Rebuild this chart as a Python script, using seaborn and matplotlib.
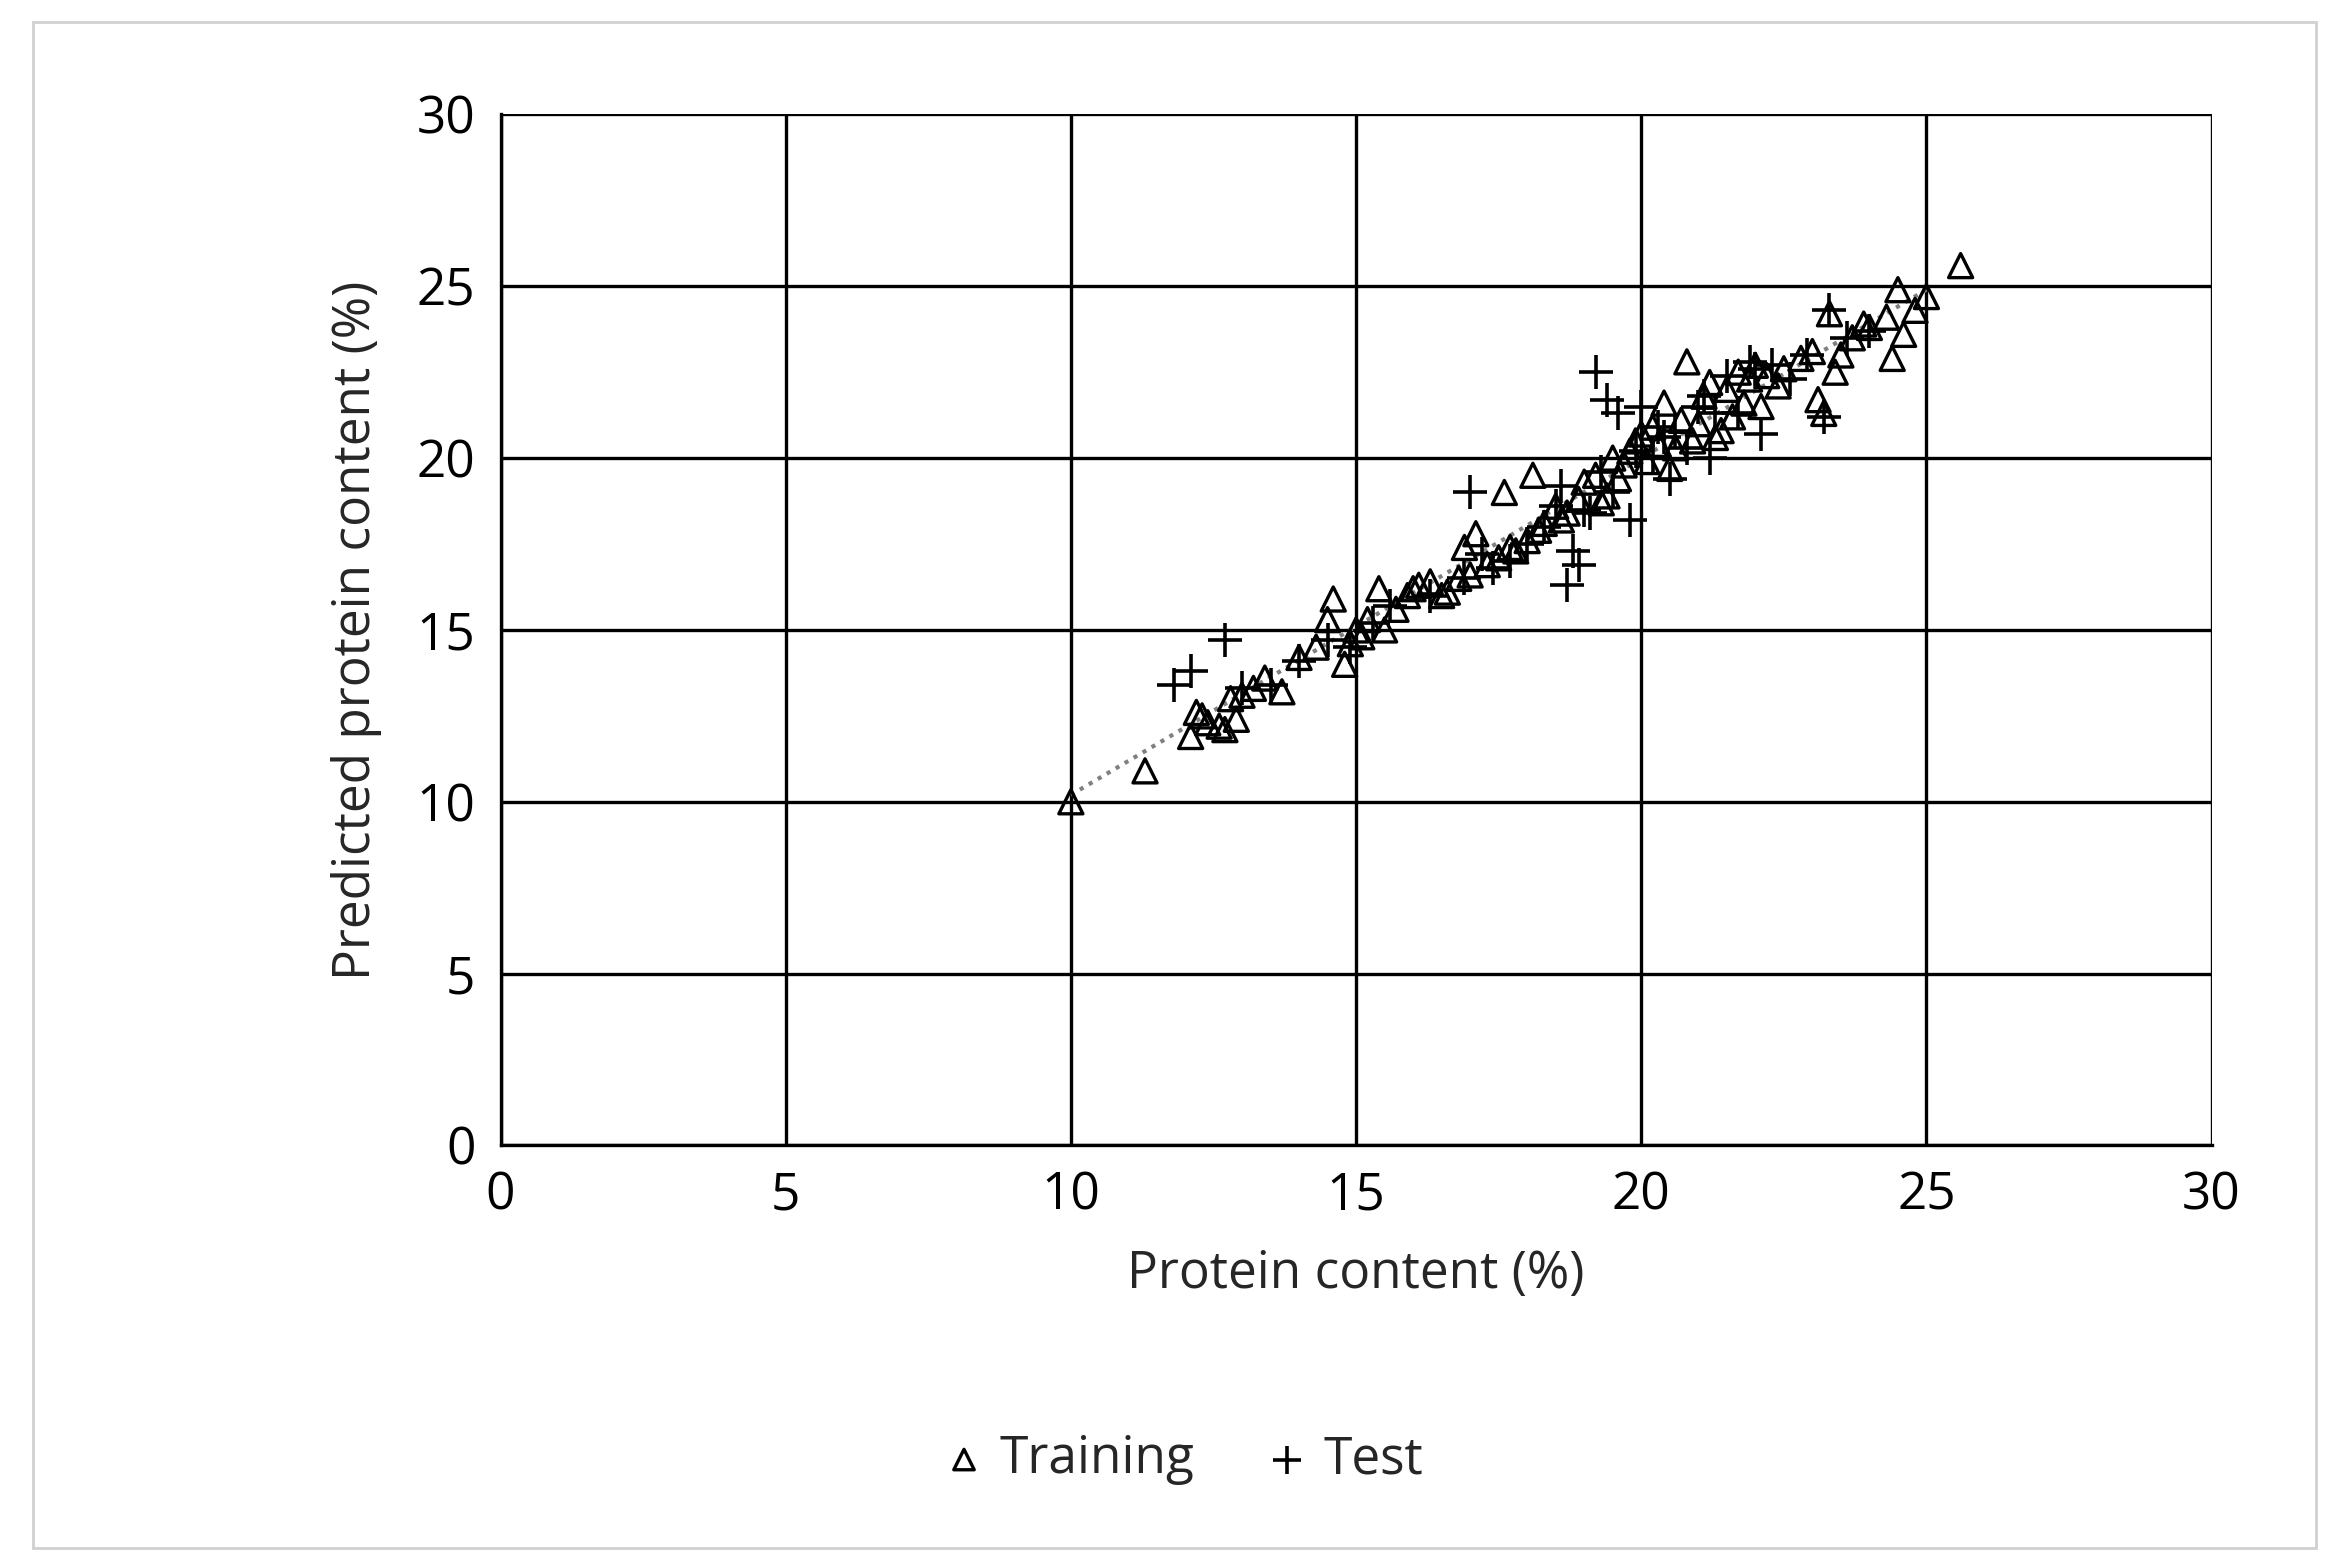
import matplotlib
matplotlib.use("Agg")
import matplotlib.pyplot as plt
import seaborn as sns
import pandas as pd
from matplotlib.patches import Rectangle

train_x = [10.0, 11.3, 12.1, 12.2, 12.4, 12.7, 12.9, 12.8, 13.2, 13.4, 13.7, 14.0, 14.3, 14.5, 14.6, 14.8, 15.0, 15.2, 15.4, 15.5, 15.7, 16.0,
           16.3, 16.5, 16.8, 16.9, 17.1, 17.3, 17.5, 17.6, 17.8, 18.0, 18.1, 18.3, 18.5, 18.7, 18.9, 19.0, 19.2, 19.4, 19.5, 19.7, 19.8,
           20.0, 20.1, 20.3, 20.4, 20.6, 20.7, 20.8, 21.0, 21.1, 21.2, 21.4, 21.5, 21.7, 21.8, 22.0, 22.2, 22.5, 22.8, 23.0, 23.2, 23.3,
           23.5, 23.7, 23.9, 24.0, 24.3, 24.5, 24.6, 24.8, 25.0, 25.6, 12.6, 13.0, 14.9, 16.6, 17.0, 18.6, 19.9, 20.5, 21.3, 22.1, 23.1,
           21.9, 20.9, 19.6, 18.2, 17.7, 15.9, 15.1, 24.4, 12.3, 16.1, 19.3, 20.2, 21.6, 22.4, 23.4]
train_y = [10.0, 10.9, 11.9, 12.6, 12.3, 12.1, 12.4, 13.0, 13.3, 13.6, 13.2, 14.2, 14.5, 15.3, 15.9, 14.0, 15.0, 15.3, 16.2, 15.0, 15.6, 16.2,
           16.4, 16.0, 16.5, 17.4, 17.8, 16.9, 17.1, 19.0, 17.3, 17.6, 19.5, 18.1, 18.6, 18.4, 18.8, 19.3, 19.5, 18.9, 20.0, 19.8, 20.2,
           20.7, 19.9, 20.4, 21.6, 20.3, 21.1, 22.8, 21.0, 21.8, 22.2, 20.8, 22.0, 22.5, 21.6, 22.7, 22.4, 22.6, 22.9, 23.1, 21.3, 24.2,
           23.0, 23.5, 23.9, 23.8, 24.1, 24.9, 23.6, 24.3, 24.7, 25.6, 12.2, 13.1, 14.6, 16.1, 16.6, 18.2, 20.5, 19.7, 20.6, 21.5, 21.7,
           22.3, 20.5, 19.4, 17.9, 17.4, 16.0, 14.8, 22.9, 12.5, 16.3, 18.7, 20.9, 21.2, 22.1, 22.5]
test_x = [11.8, 12.1, 12.7, 13.5, 14.0, 14.5, 14.9, 15.6, 16.3, 16.9, 17.0, 17.4, 17.7, 18.0, 18.3, 18.5, 18.7, 18.8, 18.9, 19.1, 19.2,
          19.4, 19.5, 19.6, 19.8, 20.0, 20.2, 20.3, 20.5, 20.6, 20.8, 21.0, 21.2, 21.3, 21.5, 21.7, 21.9, 22.1, 22.3, 22.6, 22.9, 23.2,
          23.3, 23.6, 24.0, 18.6, 19.0, 19.9, 20.4, 21.1, 17.2, 15.3, 13.0, 22.0, 19.3]
test_y = [13.4, 13.8, 14.7, 13.4, 14.1, 14.7, 14.5, 15.7, 16.0, 16.5, 19.0, 16.8, 17.0, 17.5, 18.0, 18.6, 16.3, 17.3, 16.9, 18.4, 22.5,
          21.7, 19.0, 21.3, 18.2, 21.5, 20.0, 20.9, 19.4, 20.8, 20.3, 21.5, 20.0, 21.3, 22.4, 21.3, 22.8, 20.7, 22.7, 22.3, 23.0, 21.2,
          24.3, 23.5, 23.7, 19.2, 18.5, 20.2, 20.6, 21.8, 17.2, 15.2, 13.3, 22.6, 19.6]
trend_x = [10.0, 25.0]
trend_y = [10.2, 24.9]

df_tr = pd.DataFrame({"x": train_x, "y": train_y})
df_te = pd.DataFrame({"x": test_x, "y": test_y})

sns.set_style("white")
plt.rcParams['font.family'] = ['Open Sans', 'DejaVu Sans']
fig = plt.figure(figsize=(23.28, 15.67), dpi=100)
ax = fig.add_axes([0.215, 0.269, 0.735, 0.658])
ax.plot(trend_x, trend_y, ls=(0, (1, 1.5)), color="#808080", lw=3, zorder=1)
sns.scatterplot(data=df_tr, x="x", y="y", marker="^", s=300, facecolor="none", edgecolor="black", linewidth=2.4, ax=ax, zorder=3, label="Training")
sns.scatterplot(data=df_te, x="x", y="y", marker="+", s=600, color="black", linewidth=2.6, ax=ax, zorder=3, label="Test")
ax.set_xlim(0, 30); ax.set_ylim(0, 30)
ax.set_xticks(range(0, 31, 5)); ax.set_yticks(range(0, 31, 5))
ax.grid(True, color="black", lw=2.4)
for s in ax.spines.values():
    s.set_visible(False)
ax.spines['left'].set_visible(True); ax.spines['bottom'].set_visible(True)
ax.spines['left'].set_linewidth(2.4); ax.spines['bottom'].set_linewidth(2.4)
ax.spines['left'].set_color('black'); ax.spines['bottom'].set_color('black')
ax.tick_params(labelsize=37, length=0, pad=18, colors="black")
ax.set_xlabel("Protein content (%)", fontsize=37, labelpad=20)
ax.set_ylabel("Predicted protein content (%)", fontsize=37, labelpad=25)
ax.legend(loc="upper center", bbox_to_anchor=(0.39, -0.235), ncol=2, frameon=False, fontsize=37,
          handletextpad=-0.3, columnspacing=0.8, markerscale=0.85)
fig.patches.append(Rectangle((0.014, 0.012), 0.981, 0.974, transform=fig.transFigure, fill=False, edgecolor="#d0d0d0", lw=2))
fig.savefig("out.png", dpi=100, facecolor="white")
